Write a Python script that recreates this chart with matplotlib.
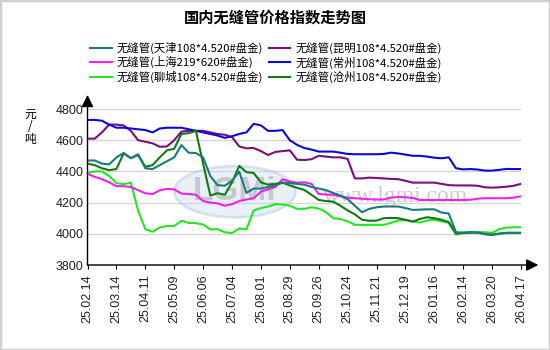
import matplotlib
matplotlib.use("Agg")
import matplotlib.pyplot as plt
from matplotlib.patches import Ellipse, Rectangle

plt.rcParams['font.family'] = ['Liberation Sans', 'Noto Sans CJK SC', 'DejaVu Sans']

date_labels = ["25.02.14", "25.03.14", "25.04.11", "25.05.09", "25.06.06", "25.07.04",
               "25.08.01", "25.08.29", "25.09.26", "25.10.24", "25.11.21", "25.12.19",
               "26.01.16", "26.02.14", "26.03.20", "26.04.17"]

tianjin = [4470, 4470, 4450, 4445, 4490, 4518, 4485, 4510, 4420, 4415,
           4440, 4465, 4490, 4569, 4520, 4518, 4490, 4370, 4312, 4308,
           4340, 4398, 4262, 4290, 4290, 4300, 4310, 4328, 4325, 4320,
           4315, 4300, 4290, 4280, 4262, 4245, 4222, 4180, 4138, 4160,
           4170, 4175, 4175, 4175, 4165, 4153, 4155, 4157, 4157, 4136,
           4130, 4010, 4008, 4011, 4008, 3998, 3992, 4000, 4006, 4006, 4006]
kunming = [4610, 4610, 4650, 4700, 4700, 4695, 4660, 4600, 4590, 4580,
           4558, 4560, 4600, 4655, 4660, 4660, 4660, 4650, 4640, 4635,
           4620, 4560, 4548, 4550, 4530, 4505, 4525, 4530, 4535, 4475,
           4473, 4478, 4500, 4495, 4490, 4490, 4480, 4355, 4355, 4360,
           4358, 4355, 4352, 4350, 4340, 4328, 4328, 4328, 4328, 4320,
           4312, 4310, 4310, 4310, 4308, 4298, 4296, 4298, 4302, 4308, 4320]
shanghai = [4385, 4365, 4350, 4330, 4305, 4305, 4300, 4280, 4260, 4255,
            4278, 4288, 4285, 4258, 4255, 4250, 4210, 4200, 4195, 4180,
            4190, 4210, 4220, 4228, 4270, 4285, 4300, 4350, 4335, 4328,
            4330, 4320, 4255, 4252, 4250, 4240, 4232, 4228, 4225, 4222,
            4220, 4220, 4232, 4236, 4234, 4230, 4217, 4217, 4217, 4217,
            4217, 4217, 4217, 4218, 4225, 4228, 4228, 4228, 4228, 4232, 4241]
changzhou = [4730, 4730, 4725, 4700, 4680, 4680, 4675, 4670, 4665, 4650,
             4675, 4680, 4680, 4680, 4670, 4660, 4650, 4640, 4630, 4615,
             4625, 4640, 4650, 4705, 4695, 4660, 4660, 4665, 4600, 4570,
             4550, 4540, 4527, 4527, 4527, 4520, 4512, 4510, 4510, 4510,
             4510, 4512, 4520, 4515, 4508, 4500, 4500, 4495, 4488, 4484,
             4490, 4420, 4413, 4415, 4412, 4405, 4405, 4410, 4416, 4415, 4415]
liaocheng = [4390, 4400, 4400, 4370, 4325, 4318, 4328, 4150, 4030, 4013,
             4040, 4050, 4050, 4084, 4070, 4068, 4060, 4028, 4030, 4010,
             4005, 4034, 4030, 4150, 4165, 4175, 4190, 4188, 4180, 4160,
             4160, 4170, 4162, 4140, 4100, 4095, 4080, 4058, 4057, 4057,
             4057, 4057, 4070, 4085, 4088, 4080, 4072, 4085, 4090, 4080,
             4070, 3995, 4004, 4006, 4011, 4010, 4006, 4030, 4040, 4042, 4042]
cangzhou = [4450, 4440, 4420, 4408, 4415, 4515, 4485, 4505, 4430, 4440,
            4490, 4535, 4545, 4640, 4645, 4660, 4450, 4245, 4260, 4250,
            4330, 4435, 4395, 4390, 4330, 4315, 4320, 4328, 4310, 4295,
            4281, 4250, 4217, 4210, 4206, 4180, 4150, 4125, 4090, 4084,
            4084, 4100, 4102, 4100, 4090, 4078, 4095, 4106, 4100, 4090,
            4075, 4002, 4006, 4008, 4008, 3998, 3995, 4002, 4006, 4006, 4006]

names = ["无缝管(天津108*4.520#盘金)", "无缝管(上海219*620#盘金)", "无缝管(聊城108*4.520#盘金)",
         "无缝管(昆明108*4.520#盘金)", "无缝管(常州108*4.520#盘金)", "无缝管(沧州108*4.520#盘金)"]
series = [tianjin, shanghai, liaocheng, kunming, changzhou, cangzhou]
colors = ["#1a7b7b", "#f020f0", "#22e622", "#7a1078", "#0a0ad8", "#127a12"]
zorders = [8, 7, 4, 5, 6, 7.5]

fig = plt.figure(figsize=(5.5, 3.5), dpi=100)
fig.add_artist(Rectangle((0, 0), 1, 1, transform=fig.transFigure, fill=False,
                         edgecolor="#d0d0d0", lw=2.5))
ax = fig.add_axes([87.5 / 550, 85 / 350, 433.5 / 550, 156 / 350])

x = list(range(len(tianjin)))
handles = []
for vals, c, n, z in zip(series, colors, names, zorders):
    ln, = ax.plot(x, vals, color=c, lw=1.5, label=n, zorder=z)
    handles.append(ln)

ax.set_xlim(0, 60)
ax.set_ylim(3800, 4800)
ax.set_yticks(range(3800, 4801, 200))
ax.set_xticks(range(0, 61, 4))
ax.set_xticklabels(date_labels, rotation=90)
ax.tick_params(axis='y', length=0, pad=3, labelsize=9, labelcolor="#222222")
ax.tick_params(axis='x', length=3, pad=4, labelsize=9, labelcolor="#222222")
ax.grid(axis='y', color="#d4d4d4", lw=0.9)
ax.set_axisbelow(True)
for s in ax.spines.values():
    s.set_visible(False)

# axis lines with arrow heads
arrow = dict(arrowstyle='-|>,head_length=0.8,head_width=0.4', color='black',
             lw=1, mutation_scale=9, shrinkA=0, shrinkB=0)
ax.annotate('', xy=(0, 1.09), xytext=(0, 0), xycoords='axes fraction', arrowprops=arrow)
ax.annotate('', xy=(1.04, 0), xytext=(0, 0), xycoords='axes fraction', arrowprops=arrow)

# faint watermark
ax.add_patch(Ellipse((0.34, 0.47), 0.28, 0.33, transform=ax.transAxes,
                     facecolor="#c8dbee", edgecolor="#a8c2e2", alpha=0.4, lw=2, zorder=1))
ax.text(0.34, 0.47, "LGMi", transform=ax.transAxes, ha='center', va='center',
        fontsize=24, fontweight='bold', color="#a9a9a9", alpha=0.55, zorder=1)
ax.text(0.71, 0.44, "www.lgmi.com", transform=ax.transAxes, ha='center', va='center',
        fontsize=17, family='Liberation Serif', color="#bdbdbd", alpha=0.75, zorder=1)

fig.text(0.5, 1 - 17.5 / 350, "国内无缝管价格指数走势图", ha='center', va='center',
         fontsize=11, fontweight='bold', family=['Noto Sans CJK SC'])
fig.text(30 / 550, 1 - 127 / 350, "元\n/\n吨", ha='center', va='center',
         fontsize=8.5, linespacing=1.0, family=['Noto Sans CJK SC'])

fig.legend(handles, names, ncol=2, loc='upper left', bbox_to_anchor=(90 / 550, 1 - 42 / 350),
           frameon=False, handlelength=1.9, handletextpad=0.45,
           columnspacing=0.5, labelspacing=0.2, borderaxespad=0, borderpad=0,
           prop={'family': ['Noto Sans CJK SC'], 'size': 8.2})

fig.savefig("out.png", dpi=100)
